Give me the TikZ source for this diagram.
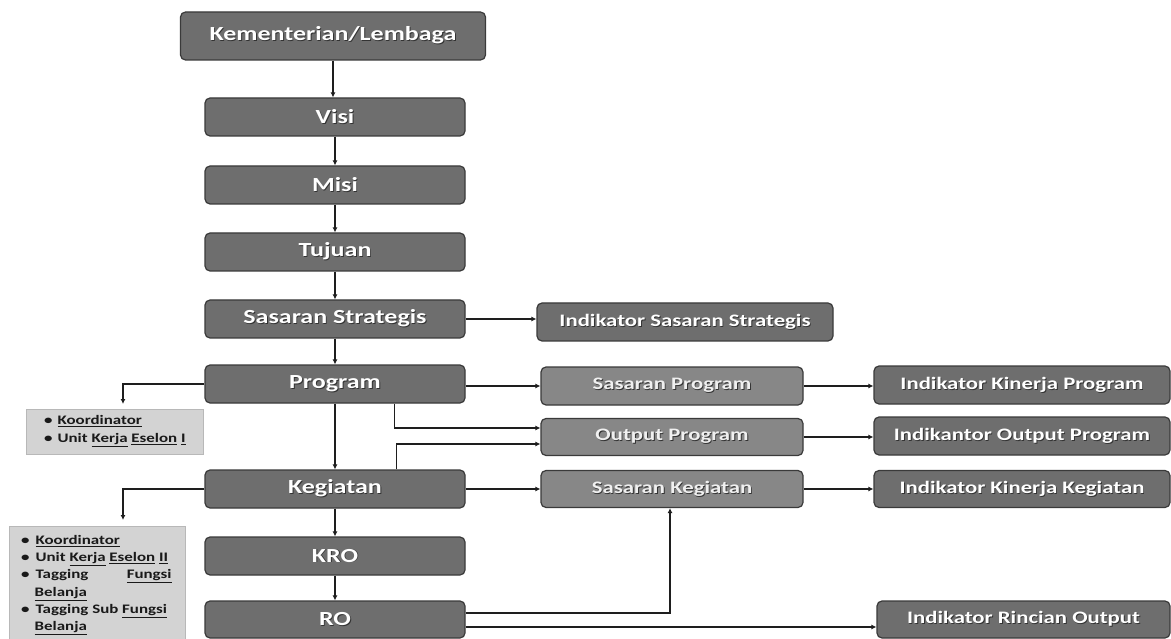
\documentclass[tikz,border=0pt]{standalone}
\usepackage{fontspec}
\setmainfont{Carlito}[FakeStretch=1.3]
\usetikzlibrary{arrows.meta,calc}
\definecolor{boxdark}{HTML}{6E6E6E}
\definecolor{boxmid}{HTML}{878787}
\definecolor{boxedge}{HTML}{3A3A3A}
\definecolor{notefill}{HTML}{D3D3D3}
\definecolor{noteedge}{HTML}{B8B8B8}
\definecolor{linecol}{HTML}{1E1E1E}
\newcommand\shd[1]{\makebox[0pt][l]{\kern0.9pt\raisebox{-0.9pt}{\textcolor{black!80}{#1}}}#1}
\newcommand\sq[1]{\underline{#1}}
\begin{document}
\begin{tikzpicture}[x=1pt,y=-1pt,
  box/.style={draw=boxedge, line width=1.2pt, rounded corners=5pt, fill=boxdark, text=white,
    font=\fontsize{20}{24}\selectfont\bfseries, inner sep=0pt, minimum width=260pt, minimum height=38pt},
  rbox/.style={box, font=\fontsize{17.5}{21}\selectfont\bfseries, minimum width=296pt},
  mbox/.style={box, fill=boxmid, text=white!94!black, font=\fontsize{17.5}{21}\selectfont\bfseries, minimum width=262pt},
  note/.style={draw=noteedge, line width=1pt, fill=notefill, inner sep=0pt, anchor=north west},
  notetext/.style={anchor=north west, align=left, inner sep=0pt, text=black!90, font=\fontsize{13}{17.3}\selectfont\bfseries},
  arr/.style={draw=linecol, line width=1.6pt, -{Latex[length=5pt,width=5pt]}}
]
\fill[white] (0,0) rectangle (1171,639);
\useasboundingbox (0,0) rectangle (1171,639);

% main column
\node[box, minimum width=305pt, minimum height=48pt] (km) at (333,36) {\shd{Kementerian/Lembaga}};
\node[box] (visi) at (335,117) {\shd{Visi}};
\node[box] (misi) at (335,185) {\shd{Misi}};
\node[box] (tuj) at (335,252) {\shd{Tujuan}};
\node[box] (ss) at (335,319) {\shd{Sasaran Strategis}};
\node[box] (prog) at (335,384) {\shd{Program}};
\node[box] (keg) at (335,489) {\shd{Kegiatan}};
\node[box] (kro) at (335,556) {\shd{KRO}};
\node[box, minimum height=37pt] (ro) at (335,619.5) {\shd{RO}};

% middle column
\node[rbox] (iss) at (685,322) {\shd{Indikator Sasaran Strategis}};
\node[mbox] (sp) at (672,386) {\shd{Sasaran Program}};
\node[mbox, minimum height=37pt] (op) at (672,437) {\shd{Output Program}};
\node[mbox, minimum height=37pt] (sk) at (672,489) {\shd{Sasaran Kegiatan}};

% right column
\node[rbox] (ikp) at (1022,385) {\shd{Indikator Kinerja Program}};
\node[rbox] (iop) at (1022,436) {\shd{Indikantor Output Program}};
\node[rbox, minimum height=37pt] (ikk) at (1022,489) {\shd{Indikator Kinerja Kegiatan}};
\node[rbox, minimum width=293pt, minimum height=37pt] (iro) at (1023.5,619.5) {\shd{Indikator Rincian Output}};

% notes
\node[note, minimum width=177pt, minimum height=45pt] (n1) at (26,409) {};
\node[notetext] (n1t) at (44,415) {\textbullet\hspace{5pt}\sq{Koordinator}\\[0.7pt]
  \textbullet\hspace{5pt}Unit \sq{Kerja} \sq{Eselon} \sq{I}};
\node[note, minimum width=176pt, minimum height=125pt] (n2) at (9,526) {};
\node[notetext] (n2t) at (21,535) {\textbullet\hspace{6pt}\sq{Koordinator}\\
  \textbullet\hspace{6pt}Unit \sq{Kerja} \sq{Eselon} \sq{II}\\
  \textbullet\hspace{6pt}\makebox[136pt][l]{Tagging\hfill\sq{Fungsi}}\\
  \hspace*{13.5pt}\sq{Belanja}\\
  \textbullet\hspace{6pt}Tagging Sub \sq{Fungsi}\\
  \hspace*{13.5pt}\sq{Belanja}};

% vertical connectors
\draw[arr] (km.south) -- (km.south |- visi.north);
\draw[arr] (visi) -- (misi);
\draw[arr] (misi) -- (tuj);
\draw[arr] (tuj) -- (ss);
\draw[arr] (ss) -- (prog);
\draw[arr] (prog) -- (keg);
\draw[arr] (keg) -- (kro);
\draw[arr] (kro) -- (ro);

% horizontal connectors
\draw[arr] (ss.east) -- (iss.west |- ss.east);
\draw[arr] (prog.east |- sp.west) -- (sp.west);
\draw[arr] (keg.east) -- (sk.west |- keg.east);
\draw[arr] (sp.east) -- (ikp.west |- sp.east);
\draw[arr] (op.east) -- (iop.west |- op.east);
\draw[arr] (sk.east) -- (ikk.west |- sk.east);

% elbow connectors
\draw[arr] ($(prog.south west)+(190,0)$) |- ($(op.west)+(0,-9)$);
\draw[arr] ($(keg.north west)+(192,0)$) |- ($(op.west)+(0,7)$);
\draw[arr] ($(ro.east)+(0,-6.5)$) -| ($(sk.south)+(-2,0)$);
\draw[arr] ($(ro.east)+(0,7.5)$) -- ($(iro.west)+(0,7.5)$);
\draw[arr] (prog.west) -| ($(n1.north west)+(97,-5)$);
\draw[arr] (keg.west) -| ($(n2.north west)+(114,-6)$);
\end{tikzpicture}
\end{document}
